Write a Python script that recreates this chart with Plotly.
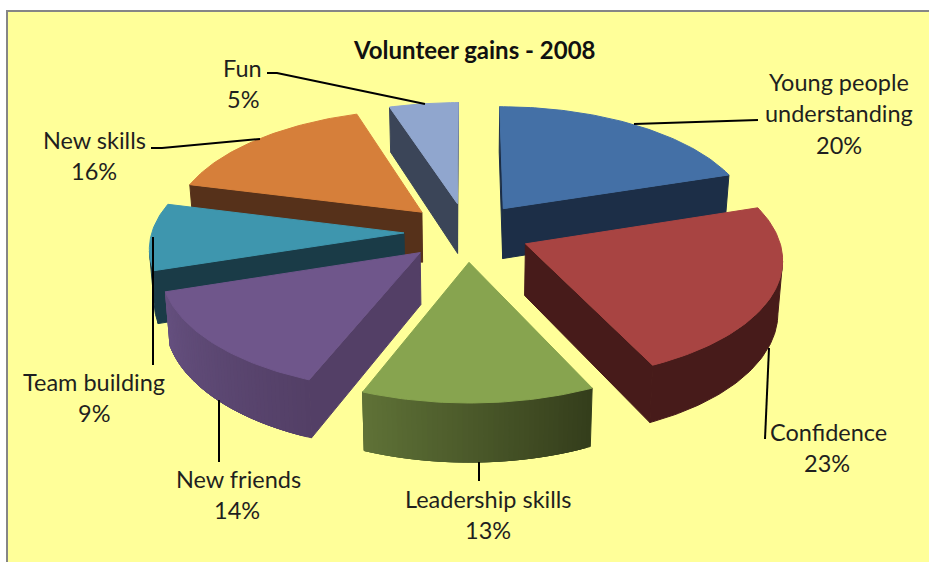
import math
import plotly.graph_objects as go

# ---- data ----
categories = ["Young people understanding", "Confidence", "Leadership skills",
              "New friends", "Team building", "New skills", "Fun"]
values = [20, 23, 13, 14, 9, 16, 5]
title_text = "Volunteer gains - 2008"

# ---- styles ----
top_colors = ["#4470A6", "#A84442", "#87A44F", "#6F568B", "#3E96AE", "#D67F3A", "#90A6CE"]
wall_left = ["#1C2E47", "#471B1A", "#5F7237", "#65507F", "#1A3B47", "#56311A", "#3B4558"]
wall_right = ["#1C2E47", "#471B1A", "#343D1B", "#533F66", "#1A3B47", "#56311A", "#3B4558"]
edge_wall = ["#1C2E47", "#471B1A", "#343D1B", "#533F66", "#1A3B47", "#56311A", "#3B4558"]
FONT = "Lato, Carlito, Calibri, sans-serif"
TEXT = "#1f1f1f"

# ---- projection of the exploded 3-D pie onto pixel-scaled axes ----
CX, CY, SX, SY, DEPTH, PERSP, EXPLODE = 467, 232, 252, 118, 51, 0.11, 0.25


def project(X, Y, top):
    s = 1 / (1 - PERSP * Y)
    z = 1 if top else 0.985
    return (CX + SX * X * s * z, CY + SY * Y * s + (0 if top else DEPTH * s))


def faces_viewer(nx, ny, X, Y):
    return nx * (0 - X) + ny * (1 / PERSP - Y) > 0


def hex2rgb(c):
    return [int(c[i:i + 2], 16) for i in (1, 3, 5)]


def mix(a, b, t):
    ra, rb = hex2rgb(a), hex2rgb(b)
    return "rgb(%d,%d,%d)" % tuple(round(ra[i] + (rb[i] - ra[i]) * t) for i in range(3))


fig = go.Figure()


def poly(points, color):
    xs = [p[0] for p in points] + [points[0][0]]
    ys = [p[1] for p in points] + [points[0][1]]
    fig.add_trace(go.Scatter(x=xs, y=ys, mode="lines", fill="toself", fillcolor=color,
                             line=dict(color=color, width=1), hoverinfo="skip", showlegend=False))


total = sum(values)
slices, cum = [], 0
for i, v in enumerate(values):
    a0 = cum / total * 2 * math.pi
    cum += v
    a1 = cum / total * 2 * math.pi
    slices.append((i, a0, a1))
slices.sort(key=lambda s: -math.cos((s[1] + s[2]) / 2))

for i, a0, a1 in slices:
    mid = (a0 + a1) / 2
    ox, oy = EXPLODE * math.sin(mid), -EXPLODE * math.cos(mid)
    edge = lambda a: (ox + math.sin(a), oy - math.cos(a))
    # radial walls
    for a, sign in ((a0, -1), (a1, 1)):
        nx, ny = sign * math.cos(a), sign * math.sin(a)
        if faces_viewer(nx, ny, ox, oy):
            ex, ey = edge(a)
            poly([project(ox, oy, True), project(ex, ey, True),
                  project(ex, ey, False), project(ox, oy, False)], edge_wall[i])
    # outer wall: visible arc angles, fine steps
    m = max(8, int((a1 - a0) / math.radians(1)))
    arc = [a0 + (a1 - a0) * k / m for k in range(m + 1)]
    seen = [a for a in arc if faces_viewer(math.sin(a), -math.cos(a), *edge(a))]
    if len(seen) > 1:
        if wall_left[i] == wall_right[i]:
            poly([project(*edge(a), True) for a in seen] +
                 [project(*edge(a), False) for a in reversed(seen)], wall_left[i])
        else:
            # gradient: overlapping bands, each painted over the previous one
            for k in range(len(seen) - 1):
                end = seen[min(k + 3, len(seen) - 1)]
                span = [seen[k], end]
                t = (k + 0.5) / (len(seen) - 1)
                poly([project(*edge(a), True) for a in span] +
                     [project(*edge(a), False) for a in reversed(span)],
                     mix(wall_right[i], wall_left[i], t))
    # top surface
    pts = [project(ox, oy, True)] + [project(*edge(a), True) for a in arc]
    poly(pts, top_colors[i])

# ---- leader lines ----
leaders = [
    [(634, 124), (758, 120)],
    [(769, 348), (765, 439)],
    [(479, 462), (479, 481)],
    [(219, 400), (219, 462)],
    [(153, 237), (153, 365)],
    [(151, 148), (162, 148), (260, 139)],
    [(267, 73), (277, 73), (425, 104)],
]
shapes = [dict(type="rect", xref="x", yref="y", x0=7, y0=11, x1=940, y1=575, layer="below",
               fillcolor="#FFFF99", line=dict(color="#868686", width=2))]
for seg in leaders:
    path = "M " + " L ".join(f"{x},{y}" for x, y in seg)
    shapes.append(dict(type="path", xref="x", yref="y", path=path, layer="above",
                       line=dict(color="#000000", width=2)))

# ---- labels ----
label_lines = [
    [("Young people", 839, 82), ("understanding", 839, 113), ("{}%", 839, 145)],
    [(categories[1], 828, 432), ("{}%", 827, 463)],
    [(categories[2], 488, 499), ("{}%", 488, 530)],
    [(categories[3], 238, 479), ("{}%", 237, 510)],
    [(categories[4], 94, 382), ("{}%", 94, 413)],
    [(categories[5], 94, 140), ("{}%", 94, 171)],
    [(categories[6], 242, 68), ("{}%", 243, 99)],
]
annotations = [dict(text=f"<b>{title_text}</b>", x=474, y=49, xref="x", yref="y", showarrow=False,
                    font=dict(family=FONT, size=24, color="#111111"))]
for i, lines in enumerate(label_lines):
    for txt, x, y in lines:
        annotations.append(dict(text=txt.format(values[i]), x=x, y=y, xref="x", yref="y",
                                showarrow=False, font=dict(family=FONT, size=23.5, color=TEXT)))

fig.update_layout(
    width=929, height=562, margin=dict(l=0, r=0, t=0, b=0),
    paper_bgcolor="#FFFFFF", plot_bgcolor="#FFFFFF",
    xaxis=dict(range=[0, 929], visible=False, fixedrange=True),
    yaxis=dict(range=[562, 0], visible=False, fixedrange=True),
    shapes=shapes, annotations=annotations, showlegend=False,
)
fig.write_html("out.html", config=dict(displayModeBar=False),
               post_script="document.body.style.margin='0';document.body.style.overflow='hidden';")
